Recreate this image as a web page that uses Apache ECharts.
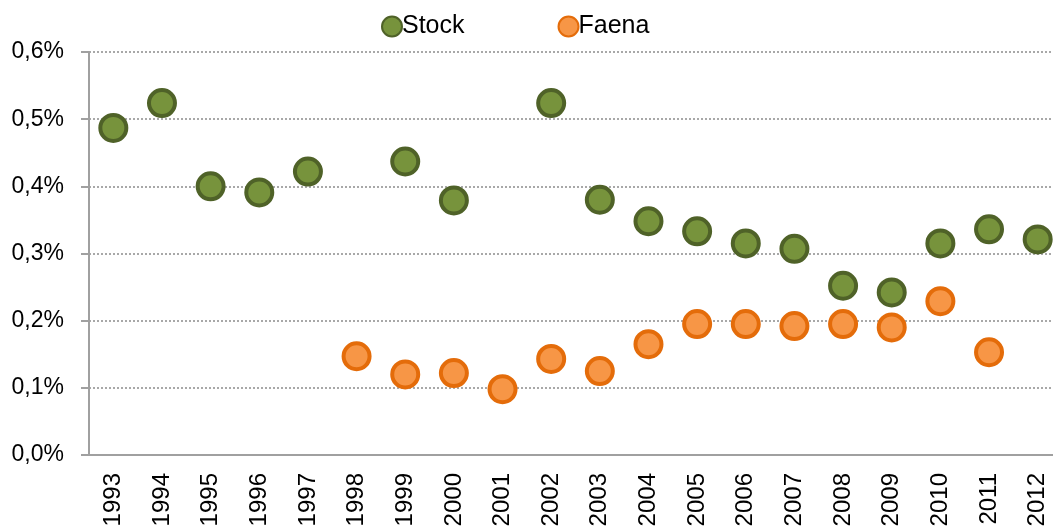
<!DOCTYPE html>
<html><head><meta charset="utf-8">
<script src="https://cdn.jsdelivr.net/npm/echarts@6/dist/echarts.min.js"></script>
<style>html,body{margin:0;padding:0;background:#fff}#c{width:1053px;height:528px}</style>
</head><body><div id="c"></div>
<script>
const years = ['1993','1994','1995','1996','1997','1998','1999','2000','2001','2002','2003','2004','2005','2006','2007','2008','2009','2010','2011','2012'];
const stock = [0.487,0.524,0.400,0.391,0.422,null,0.437,0.379,null,0.524,0.380,0.348,0.333,0.315,0.307,0.252,0.242,0.315,0.336,0.321];
const faena = [null,null,null,null,null,0.147,0.120,0.122,0.098,0.143,0.125,0.165,0.195,0.195,0.192,0.195,0.190,0.229,0.153,null];
const yTicks = [0,0.1,0.2,0.3,0.4,0.5,0.6];

const chart = echarts.init(document.getElementById('c'));
chart.setOption({
  animation:false,
  legend:{
    top:9, left:376, itemGap:93, itemWidth:20, itemHeight:20,
    textStyle:{fontFamily:'Liberation Sans', fontSize:25, color:'#000', padding:[0,0,0,-5]},
    data:[{name:'Stock',icon:'circle'},{name:'Faena',icon:'circle'}]
  },
  grid:{left:89, right:-9, top:52, bottom:73, outerBoundsMode:'none', containLabel:false},
  xAxis:{
    type:'category', data:years, boundaryGap:true,
    axisLine:{lineStyle:{color:'#a0a0a0', width:2}},
    axisTick:{length:8, lineStyle:{color:'#a0a0a0', width:2}},
    axisLabel:{rotate:90, margin:18, fontFamily:'Liberation Sans', fontSize:24, color:'#000'},
    splitLine:{show:false}
  },
  yAxis:{
    type:'value', min:yTicks[0], max:yTicks[yTicks.length-1], interval:0.1,
    axisLine:{show:true, lineStyle:{color:'#a0a0a0', width:2}},
    axisTick:{show:true, length:8, lineStyle:{color:'#a0a0a0', width:2}},
    axisLabel:{margin:25, fontFamily:'Liberation Sans', fontSize:23, color:'#000',
      formatter:v=>v.toFixed(1).replace('.',',')+'%'},
    splitLine:{show:true, lineStyle:{color:'#8c8c8c', type:[2,2], width:1.5}}
  },
  series:[
    {name:'Stock', type:'scatter', data:stock, symbol:'circle', symbolSize:26,
     itemStyle:{color:'#77933C', borderColor:'#4F6228', borderWidth:4, opacity:1}},
    {name:'Faena', type:'scatter', data:faena, symbol:'circle', symbolSize:26,
     itemStyle:{color:'#F79646', borderColor:'#E46C0A', borderWidth:4, opacity:1}}
  ]
});
</script></body></html>
